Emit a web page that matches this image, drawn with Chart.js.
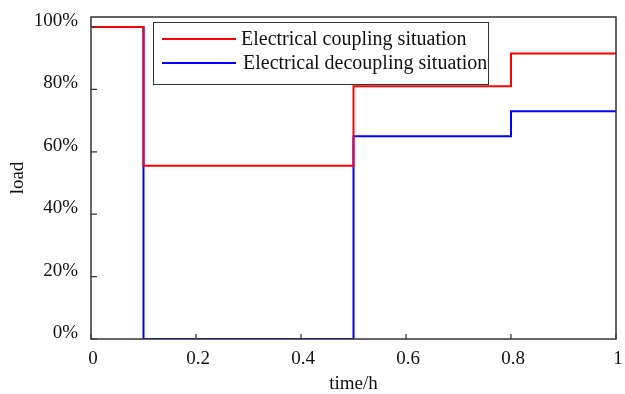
<!DOCTYPE html>
<html>
<head>
<meta charset="utf-8">
<title>Load curves</title>
<script src="https://cdn.jsdelivr.net/npm/chart.js@4/dist/chart.umd.min.js"></script>
<style>
  html, body { margin: 0; padding: 0; background: #fff; }
  canvas { display: block; }
</style>
</head>
<body>
<canvas id="loadChart" width="625" height="394"></canvas>
<script>
// step breakpoints (hours) and load levels (%)
const times = [0, 0.1, 0.5, 0.8, 1];
const couplingLoad = [100, 55.5, 81, 91.5, 91.5];
const decouplingLoad = [100, 0, 65, 73, 73];
const xTickValues = [0, 0.2, 0.4, 0.6, 0.8, 1];
const yTickValues = [0, 20, 40, 60, 80, 100];
const seriesNames = ['Electrical coupling situation', 'Electrical decoupling situation'];

const SERIF = '"Liberation Serif", "Times New Roman", serif';
const AXIS = '#333333';

const toPoints = vals => times.map((t, i) => ({ x: t, y: vals[i] }));

// frame, inward tick marks and the boxed legend
const framePlugin = {
  id: 'frame',
  afterDatasetsDraw(chart) {
    const { ctx, chartArea: a, scales } = chart;
    ctx.save();
    ctx.strokeStyle = AXIS;
    ctx.lineWidth = 1.5;
    ctx.strokeRect(a.left, a.top, a.right - a.left, a.bottom - a.top);

    ctx.lineWidth = 1.2;
    ctx.beginPath();
    xTickValues.forEach(v => {
      const px = scales.x.getPixelForValue(v);
      ctx.moveTo(px, a.bottom);
      ctx.lineTo(px, a.bottom - 5);
    });
    yTickValues.forEach(v => {
      const py = scales.y.getPixelForValue(v);
      ctx.moveTo(a.left, py);
      ctx.lineTo(a.left + 6, py);
    });
    ctx.stroke();

    // legend box
    const bx = 153, by = 22, bw = 335, bh = 62;
    ctx.fillStyle = '#fff';
    ctx.fillRect(bx, by, bw, bh);
    ctx.strokeStyle = AXIS;
    ctx.lineWidth = 1;
    ctx.strokeRect(bx + 0.5, by + 0.5, bw, bh);

    ctx.font = '20px ' + SERIF;
    ctx.textBaseline = 'middle';
    chart.data.datasets.forEach((ds, i) => {
      const ly = 39 + i * 24;
      ctx.strokeStyle = ds.borderColor;
      ctx.lineWidth = 2;
      ctx.beginPath();
      ctx.moveTo(162, ly);
      ctx.lineTo(236, ly);
      ctx.stroke();
      ctx.fillStyle = '#111';
      ctx.fillText(ds.label, 241 + i * 2, ly + 1);
    });
    ctx.restore();
  }
};

new Chart(document.getElementById('loadChart'), {
  type: 'line',
  data: {
    datasets: [
      {
        label: seriesNames[0],
        data: toPoints(couplingLoad),
        borderColor: '#ff0000',
        borderWidth: 2,
        stepped: 'before',
        pointRadius: 0,
        fill: false
      },
      {
        label: seriesNames[1],
        data: toPoints(decouplingLoad),
        borderColor: '#0000ff',
        borderWidth: 2,
        stepped: 'before',
        pointRadius: 0,
        fill: false
      }
    ]
  },
  options: {
    responsive: false,
    animation: false,
    events: [],
    layout: { padding: { left: 0, right: 9, top: 17, bottom: 0 } },
    plugins: {
      legend: { display: false },
      tooltip: { enabled: false }
    },
    scales: {
      x: {
        type: 'linear',
        min: 0,
        max: 1,
        border: { display: false },
        grid: { display: false, drawTicks: false },
        afterBuildTicks: s => { s.ticks = xTickValues.map(v => ({ value: v })); },
        afterFit: s => { s.height = 55; s.paddingLeft = 0; s.paddingRight = 0; },
        ticks: {
          color: '#111',
          font: { family: SERIF, size: 19 },
          padding: 9,
          labelOffset: 2,
          maxRotation: 0,
          callback: v => String(v)
        },
        title: {
          display: true,
          text: 'time/h',
          color: '#111',
          font: { family: SERIF, size: 19, lineHeight: 1 },
          padding: { top: 0, bottom: 0 }
        }
      },
      y: {
        min: 0,
        max: 103.2,
        border: { display: false },
        grid: { display: false, drawTicks: false },
        afterBuildTicks: s => { s.ticks = yTickValues.map(v => ({ value: v })); },
        afterFit: s => { s.width = 91; s.paddingTop = 0; s.paddingBottom = 0; },
        ticks: {
          color: '#111',
          font: { family: SERIF, size: 19 },
          padding: 13,
          labelOffset: -6,
          callback: v => v + '%'
        },
        title: {
          display: true,
          text: 'load',
          color: '#111',
          font: { family: SERIF, size: 19, lineHeight: 1.2 },
          padding: { top: 7, bottom: 0 }
        }
      }
    }
  },
  plugins: [framePlugin]
});
</script>
</body>
</html>
